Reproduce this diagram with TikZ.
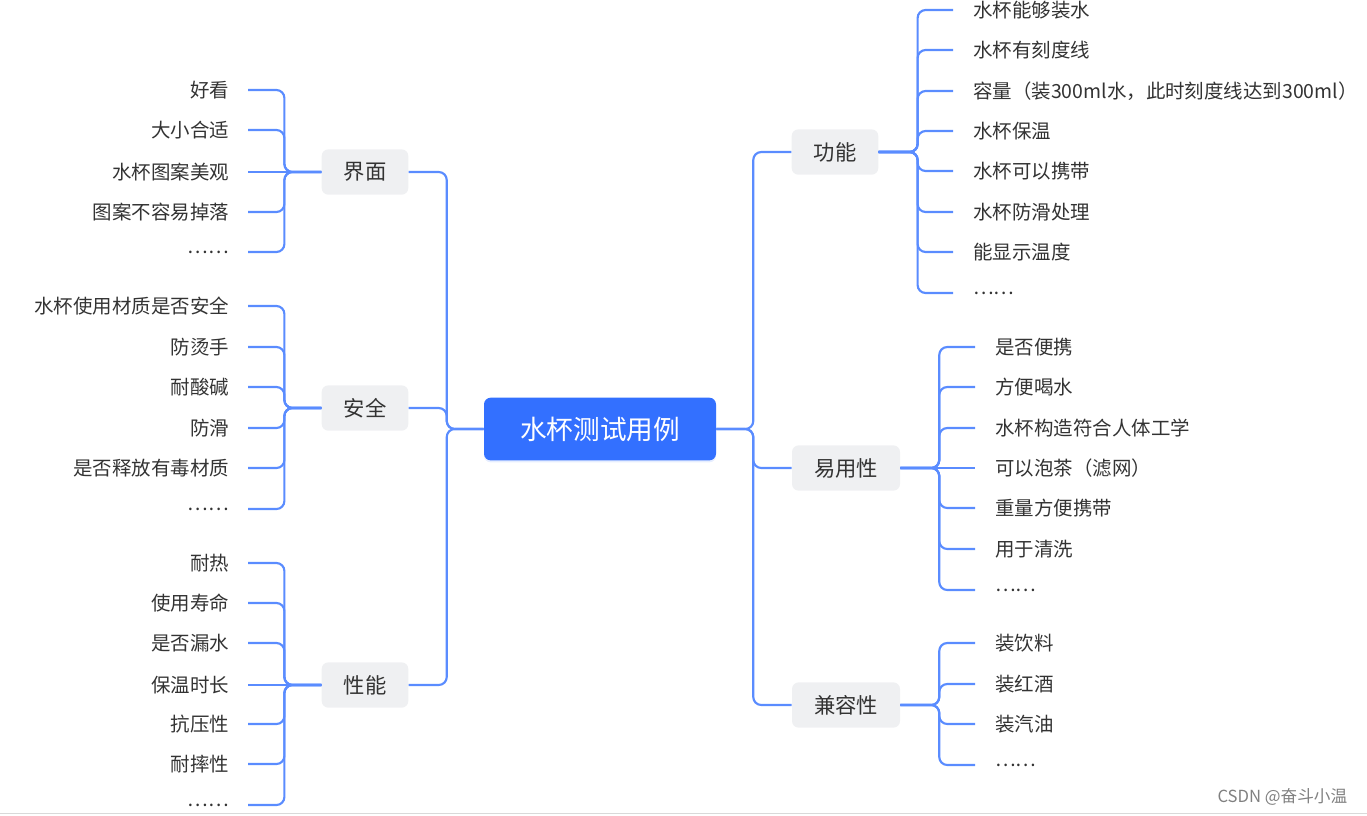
\documentclass[tikz,border=0pt]{standalone}
\usepackage{fontspec}
\setmainfont{Noto Sans CJK SC}
\usepackage{xcolor}
\usepackage{tikz}
\usetikzlibrary{positioning, shadows}

\definecolor{linkblue}{RGB}{90,140,255}
\definecolor{rootblue}{RGB}{51,112,255}
\definecolor{topicgray}{RGB}{239,240,242}
\definecolor{inkgray}{RGB}{51,51,51}

\newcommand{\moredots}{\raisebox{-3pt}{……}}

\tikzset{
    root/.style={fill=rootblue, rounded corners=5pt, text=white,
        font=\fontsize{20}{22}\selectfont, minimum height=47pt, inner xsep=27pt,
        drop shadow={shadow xshift=0pt, shadow yshift=-1.5pt, opacity=0.12, fill=rootblue}},
    topic/.style={fill=topicgray, rounded corners=5pt, text=inkgray,
        font=\fontsize{16}{18}\selectfont, minimum height=34pt, inner xsep=16.5pt},
    leafL/.style={anchor=east, inner xsep=14pt, text=inkgray,
        font=\fontsize{14.6}{17}\selectfont},
    leafR/.style={anchor=west, inner xsep=15pt, text=inkgray,
        font=\fontsize{14.6}{17}\selectfont},
    link/.style={draw=linkblue, line width=1.6pt, rounded corners=6pt},
}

\begin{document}
\begin{tikzpicture}[x=0.75pt, y=-0.75pt]

\useasboundingbox (0,0) rectangle (1367,815);

% root and topics
\node[root] (root) at (600,429) {水杯测试用例};

\node[topic] (jm) at (365,172) {界面};
\node[topic] (aq) at (365,408) {安全};
\node[topic] (xn) at (365,685) {性能};

\node[topic] (gn) at (835,152) {功能};
\node[topic] (yy) at (846,468) {易用性};
\node[topic] (jr) at (846,705) {兼容性};

\foreach \n in {jm,aq,xn}
    \draw[link] (root.west) -- ++(-37,0) |- (\n.east);
\foreach \n in {gn,yy,jr}
    \draw[link] (root.east) -- ++(37,0) |- (\n.west);

% left leaves
\node[leafL] (jm1) at (248,90)  {好看};
\node[leafL] (jm2) at (248,130) {大小合适};
\node[leafL] (jm3) at (248,172) {水杯图案美观};
\node[leafL] (jm4) at (248,212) {图案不容易掉落};
\node[leafL] (jm5) at (248,252) {\moredots};

\node[leafL] (aq1) at (248,306) {水杯使用材质是否安全};
\node[leafL] (aq2) at (248,347) {防烫手};
\node[leafL] (aq3) at (248,387) {耐酸碱};
\node[leafL] (aq4) at (248,428) {防滑};
\node[leafL] (aq5) at (248,468) {是否释放有毒材质};
\node[leafL] (aq6) at (248,509) {\moredots};

\node[leafL] (xn1) at (248,563) {耐热};
\node[leafL] (xn2) at (248,603) {使用寿命};
\node[leafL] (xn3) at (248,643) {是否漏水};
\node[leafL] (xn4) at (248,685) {保温时长};
\node[leafL] (xn5) at (248,724) {抗压性};
\node[leafL] (xn6) at (248,764) {耐摔性};
\node[leafL] (xn7) at (248,805) {\moredots};

\foreach \n in {jm1,jm2,jm4,jm5}
    \draw[link] (jm.west) -- ++(-37,0) |- (\n.east);
\draw[link] (jm.west) -- (jm3.east);
\foreach \n in {aq1,aq2,aq3,aq4,aq5,aq6}
    \draw[link] (aq.west) -- ++(-37,0) |- (\n.east);
\foreach \n in {xn1,xn2,xn3,xn5,xn6,xn7}
    \draw[link] (xn.west) -- ++(-37,0) |- (\n.east);
\draw[link] (xn.west) -- (xn4.east);

% right leaves
\node[leafR] (gn1) at (953,10)  {水杯能够装水};
\node[leafR] (gn2) at (953,50)  {水杯有刻度线};
\node[leafR] (gn3) at (953,91)  {容量（装300ml水，此时刻度线达到300ml）};
\node[leafR] (gn4) at (953,131) {水杯保温};
\node[leafR] (gn5) at (953,171) {水杯可以携带};
\node[leafR] (gn6) at (953,212) {水杯防滑处理};
\node[leafR] (gn7) at (953,252) {能显示温度};
\node[leafR] (gn8) at (953,293) {\moredots};

\node[leafR] (yy1) at (975,347) {是否便携};
\node[leafR] (yy2) at (975,387) {方便喝水};
\node[leafR] (yy3) at (975,428) {水杯构造符合人体工学};
\node[leafR] (yy4) at (975,468) {可以泡茶（滤网）};
\node[leafR] (yy5) at (975,508) {重量方便携带};
\node[leafR] (yy6) at (975,549) {用于清洗};
\node[leafR] (yy7) at (975,590) {\moredots};

\node[leafR] (jr1) at (975,643) {装饮料};
\node[leafR] (jr2) at (975,684) {装红酒};
\node[leafR] (jr3) at (975,724) {装汽油};
\node[leafR] (jr4) at (975,765) {\moredots};

\foreach \n in {gn1,gn2,gn3,gn4,gn5,gn6,gn7,gn8}
    \draw[link] (gn.east) -- ++(39,0) |- (\n.west);
\foreach \n in {yy1,yy2,yy3,yy5,yy6,yy7}
    \draw[link] (yy.east) -- ++(39,0) |- (\n.west);
\draw[link] (yy.east) -- (yy4.west);
\foreach \n in {jr1,jr2,jr3,jr4}
    \draw[link] (jr.east) -- ++(39,0) |- (\n.west);

% footer
\draw[black!15] (0,813) -- (1367,813);
\node[anchor=east, text=black!50, font=\fontsize{12.5}{14}\selectfont] (mark)
    at (1352,797) {CSDN @奋斗小温};

\end{tikzpicture}
\end{document}
